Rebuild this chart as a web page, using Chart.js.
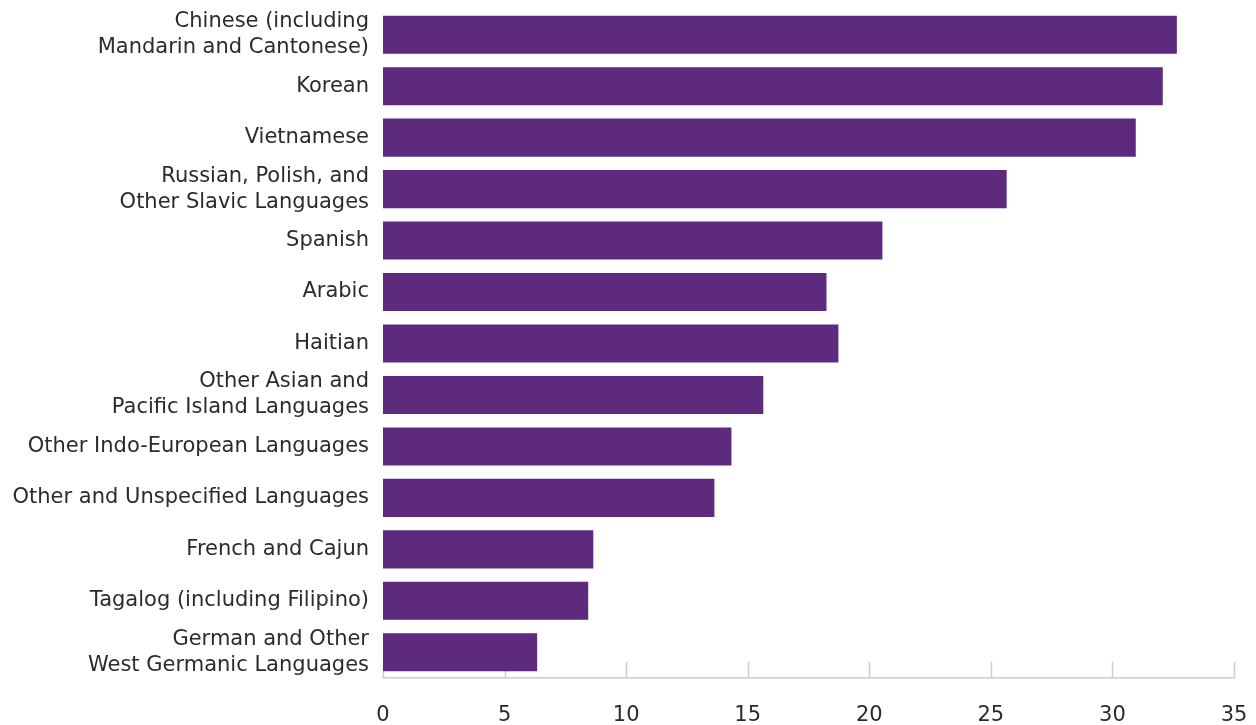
<!DOCTYPE html>
<html>
<head>
<meta charset="utf-8">
<script src="https://cdn.jsdelivr.net/npm/chart.js@4"></script>
<style>
  html, body { margin: 0; padding: 0; background: #fff; }
  #wrap { width: 1256px; height: 725px; }
</style>
</head>
<body>
<div id="wrap"><canvas id="langChart"></canvas></div>
<script>
const languages = [
    ['Chinese (including', 'Mandarin and Cantonese)'],
    'Korean',
    'Vietnamese',
    ['Russian, Polish, and', 'Other Slavic Languages'],
    'Spanish',
    'Arabic',
    'Haitian',
    ['Other Asian and', 'Pacific Island Languages'],
    'Other Indo-European Languages',
    'Other and Unspecified Languages',
    'French and Cajun',
    'Tagalog (including Filipino)',
    ['German and Other', 'West Germanic Languages']
];
const percentValues = [32.65, 32.07, 30.96, 25.65, 20.54, 18.24, 18.73, 15.64, 14.33, 13.63, 8.65, 8.44, 6.34];
const tickValues = [0, 5, 10, 15, 20, 25, 30, 35];

const fontFamily = '"DejaVu Sans", sans-serif';

// short tick marks standing up from the x axis, drawn behind the bars
const upTicks = {
    id: 'upTicks',
    beforeDatasetsDraw(chart) {
        const ctx = chart.ctx;
        const x = chart.scales.x;
        const bottom = chart.chartArea.bottom;
        ctx.save();
        ctx.strokeStyle = '#cccccc';
        ctx.lineWidth = 1.5;
        tickValues.forEach(v => {
            const px = Math.round(x.getPixelForValue(v)) + 0.5;
            ctx.beginPath();
            ctx.moveTo(px, bottom - 16);
            ctx.lineTo(px, bottom);
            ctx.stroke();
        });
        ctx.restore();
    }
};

const ctx = document.getElementById('langChart').getContext('2d');
const langChart = new Chart(ctx, {
    type: 'bar',
    data: {
        labels: languages,
        datasets: [{
            data: percentValues,
            backgroundColor: '#5e2a7e',
            borderWidth: 0,
            barPercentage: 0.74,
            categoryPercentage: 1.0
        }]
    },
    options: {
        indexAxis: 'y',
        responsive: true,
        maintainAspectRatio: false,
        animation: false,
        layout: { padding: { top: 9, right: 22, left: 0, bottom: 0 } },
        plugins: {
            legend: { display: false },
            tooltip: { enabled: false }
        },
        scales: {
            x: {
                min: 0,
                max: 35,
                afterBuildTicks: scale => {
                    scale.ticks = tickValues.map(v => ({ value: v }));
                },
                grid: { display: false, drawTicks: false },
                border: { display: true, color: '#cccccc', width: 1.5 },
                ticks: {
                    color: '#2b2b2b',
                    padding: 25,
                    maxRotation: 0,
                    font: { family: fontFamily, size: 21 }
                },
                afterFit: scale => {
                    scale.height = 47;
                    scale.paddingLeft = 0;
                    scale.paddingRight = 0;
                }
            },
            y: {
                grid: { display: false, drawTicks: false },
                border: { display: false },
                ticks: {
                    color: '#2b2b2b',
                    padding: 14,
                    autoSkip: false,
                    font: { family: fontFamily, size: 21, lineHeight: 1.24 }
                },
                afterFit: scale => {
                    scale.width = 383;
                    scale.paddingTop = 0;
                    scale.paddingBottom = 0;
                }
            }
        }
    },
    plugins: [upTicks]
});
</script>
</body>
</html>
